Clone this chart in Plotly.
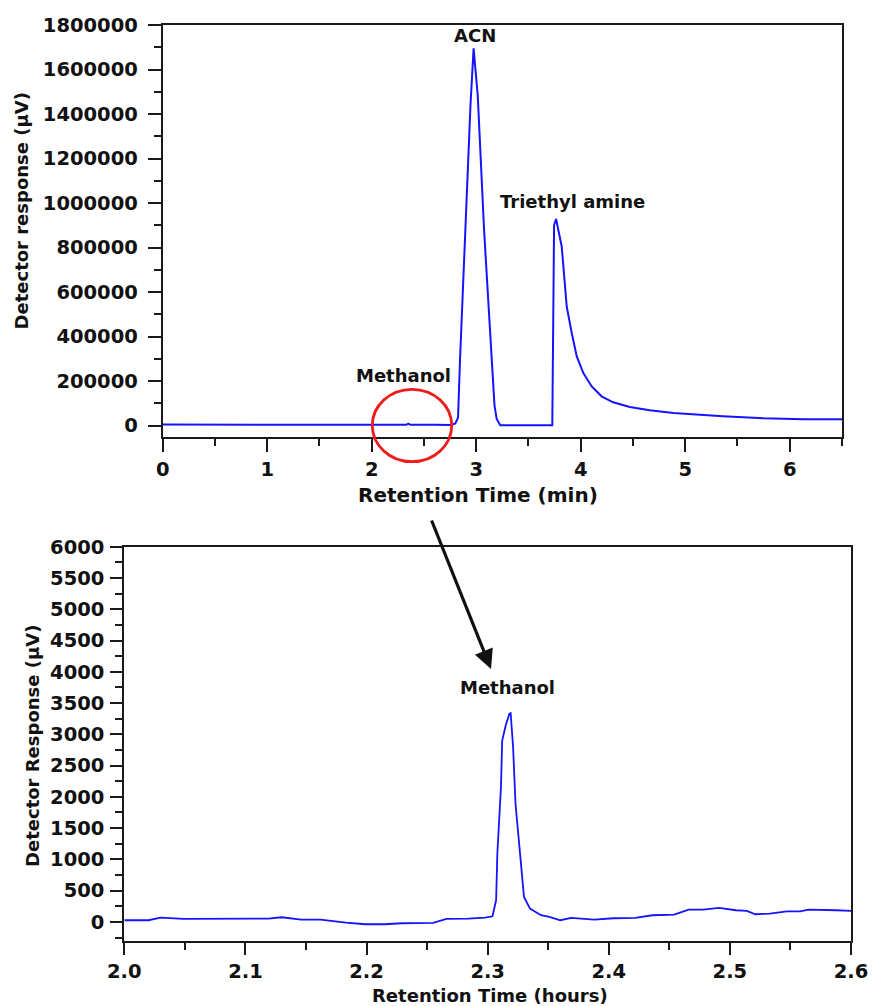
import plotly.graph_objects as go

# ---------------- data ----------------
top_time_min = [0.0, 0.42, 0.45, 1.32, 1.35, 2.0, 2.33, 2.35, 2.37, 2.6, 2.76, 2.80, 2.826,
                2.845, 2.893, 2.945, 2.975, 3.015, 3.075, 3.148, 3.175, 3.196, 3.23, 3.5,
                3.728, 3.745, 3.764, 3.818, 3.866, 3.914, 3.962, 4.025, 4.105, 4.20, 4.31,
                4.47, 4.66, 4.886, 5.05, 5.36, 5.75, 6.13, 6.5]
top_response = [4500, 4500, 1500, 1500, 3500, 3500, 3500, 9000, 3500, 3500, 3000, 10000, 36000,
                 296000, 880000, 1440000, 1695000, 1480000, 880000, 296000, 90000, 30000, 2000, 1000,
                 1000, 900000, 928000, 805000, 535000, 416000, 311000, 236000, 176000, 131500, 104600,
                 83800, 68700, 57000, 50700, 41800, 32800, 28300, 28300]

zoom_time = [2.000, 2.020, 2.030, 2.049, 2.119, 2.130, 2.146, 2.162, 2.183, 2.199, 2.215,
             2.229, 2.255, 2.266, 2.284, 2.298, 2.304, 2.307, 2.308, 2.311, 2.312, 2.315,
             2.318, 2.319, 2.321, 2.323, 2.327, 2.330, 2.335, 2.344, 2.351, 2.360, 2.369,
             2.388, 2.404, 2.422, 2.436, 2.454, 2.466, 2.478, 2.491, 2.505, 2.514, 2.521,
             2.533, 2.547, 2.558, 2.565, 2.588, 2.600]
zoom_response = [27, 27, 70, 48, 53, 75, 37, 37, -10, -37, -37,
                 -21, -16, 48, 53, 70, 90, 350, 1090, 2160, 2900, 3150,
                 3330, 3340, 2800, 1890, 1040, 400, 213, 107, 80, 27, 64,
                 37, 59, 64, 107, 117, 197, 197, 224, 187, 176, 123,
                 133, 170, 170, 197, 187, 176]

top_yticks = [0, 200000, 400000, 600000, 800000, 1000000, 1200000, 1400000, 1600000, 1800000]
top_xticks = [0, 1, 2, 3, 4, 5, 6]
bot_yticks = [0, 500, 1000, 1500, 2000, 2500, 3000, 3500, 4000, 4500, 5000, 5500, 6000]
bot_xticks = [2.0, 2.1, 2.2, 2.3, 2.4, 2.5, 2.6]

peak_labels_top = [("ACN", 2.989, 1753000), ("Triethyl amine", 3.92, 1005000), ("Methanol", 2.30, 226700)]
peak_labels_bot = [("Methanol", 2.316, 3747)]

# ---------------- figure ----------------
W, H = 872, 1006
FONT = "DejaVu Sans, Arial, sans-serif"
LINE = "#1414ff"
AX = "#1a1a1a"

fig = go.Figure()
fig.add_trace(go.Scatter(x=top_time_min, y=top_response, mode="lines",
                         line=dict(color=LINE, width=2), xaxis="x", yaxis="y",
                         showlegend=False, hoverinfo="skip"))
fig.add_trace(go.Scatter(x=zoom_time, y=zoom_response, mode="lines",
                         line=dict(color=LINE, width=1.8), xaxis="x2", yaxis="y2",
                         showlegend=False, hoverinfo="skip"))

def px_x(p):
    return p / W

def px_y(p):
    return 1 - p / H

tickfont = dict(family=FONT, size=19.5, color="#111", weight="bold")
common = dict(showgrid=False, zeroline=False, showline=True, linecolor=AX, linewidth=2,
              mirror=True, ticks="outside", tickcolor=AX, tickwidth=2, tickfont=tickfont,
              automargin=False)

fig.update_layout(
    width=W, height=H, margin=dict(l=0, r=0, t=0, b=0, autoexpand=False),
    paper_bgcolor="white", plot_bgcolor="white", showlegend=False,
    xaxis=dict(domain=[px_x(162.7), px_x(842)], anchor="y", range=[0, 6.5],
               tickvals=top_xticks, ticklen=13, ticklabelstandoff=1,
               minor=dict(dtick=0.5, ticks="outside", ticklen=7, tickcolor=AX, tickwidth=2),
               **common),
    yaxis=dict(domain=[px_y(436.7), px_y(25)], anchor="x", range=[-50000, 1800000],
               tickvals=top_yticks, tickformat="d", ticklen=13, ticklabelstandoff=6,
               minor=dict(dtick=100000, ticks="outside", ticklen=7, tickcolor=AX, tickwidth=2),
               **common),
    xaxis2=dict(domain=[px_x(124.3), px_x(851)], anchor="y2", range=[2.0, 2.6],
                tickvals=bot_xticks, tickformat=".1f", ticklen=12, ticklabelstandoff=0,
                minor=dict(dtick=0.05, tick0=2.0, ticks="outside", ticklen=7, tickcolor=AX, tickwidth=2),
                **common),
    yaxis2=dict(domain=[px_y(940.7), px_y(546.7)], anchor="x2", range=[-300, 6000],
                tickvals=bot_yticks, tickformat="d", ticklen=12, ticklabelstandoff=2,
                minor=dict(dtick=250, ticks="outside", ticklen=7, tickcolor=AX, tickwidth=2),
                **common),
)

annots = []
lblfont = dict(family=FONT, size=18, color="#111", weight="bold")
for txt, xv, yv in peak_labels_top:
    annots.append(dict(text=txt, x=xv, y=yv, xref="x", yref="y", showarrow=False,
                       xanchor="center", yanchor="middle", font=lblfont))
for txt, xv, yv in peak_labels_bot:
    annots.append(dict(text=txt, x=xv, y=yv, xref="x2", yref="y2", showarrow=False,
                       xanchor="center", yanchor="middle", font=lblfont))

# axis titles
annots += [
    dict(text="Retention Time (min)", x=px_x(478), y=px_y(495), xref="paper", yref="paper",
         showarrow=False, xanchor="center", yanchor="middle",
         font=dict(family=FONT, size=20, color="#111", weight="bold")),
    dict(text="Detector response (μV)", x=px_x(21), y=px_y(211.5), xref="paper", yref="paper",
         showarrow=False, xanchor="center", yanchor="middle", textangle=-90,
         font=dict(family=FONT, size=18, color="#111", weight="bold")),
    dict(text="Retention Time (hours)", x=px_x(490), y=px_y(995), xref="paper", yref="paper",
         showarrow=False, xanchor="center", yanchor="middle",
         font=dict(family=FONT, size=18, color="#111", weight="bold")),
    dict(text="Detector Response (μV)", x=px_x(32), y=px_y(746), xref="paper", yref="paper",
         showarrow=False, xanchor="center", yanchor="middle", textangle=-90,
         font=dict(family=FONT, size=18, color="#111", weight="bold")),
]

# arrow from the circled region to the zoomed chromatogram
annots.append(dict(x=px_x(491), y=px_y(669), xref="paper", yref="paper", text="",
                   showarrow=True, ax=-60, ay=-150, axref="pixel", ayref="pixel",
                   arrowhead=2, arrowsize=1.2, arrowwidth=3.2, arrowcolor="#111"))

fig.update_layout(annotations=annots)

fig.add_shape(type="circle", xref="paper", yref="paper",
              x0=px_x(372.3), x1=px_x(451.7), y0=px_y(461.7), y1=px_y(389.3),
              line=dict(color="#ee1c1c", width=2.8), fillcolor="rgba(0,0,0,0)", layer="above")

fig.write_html("out.html")
